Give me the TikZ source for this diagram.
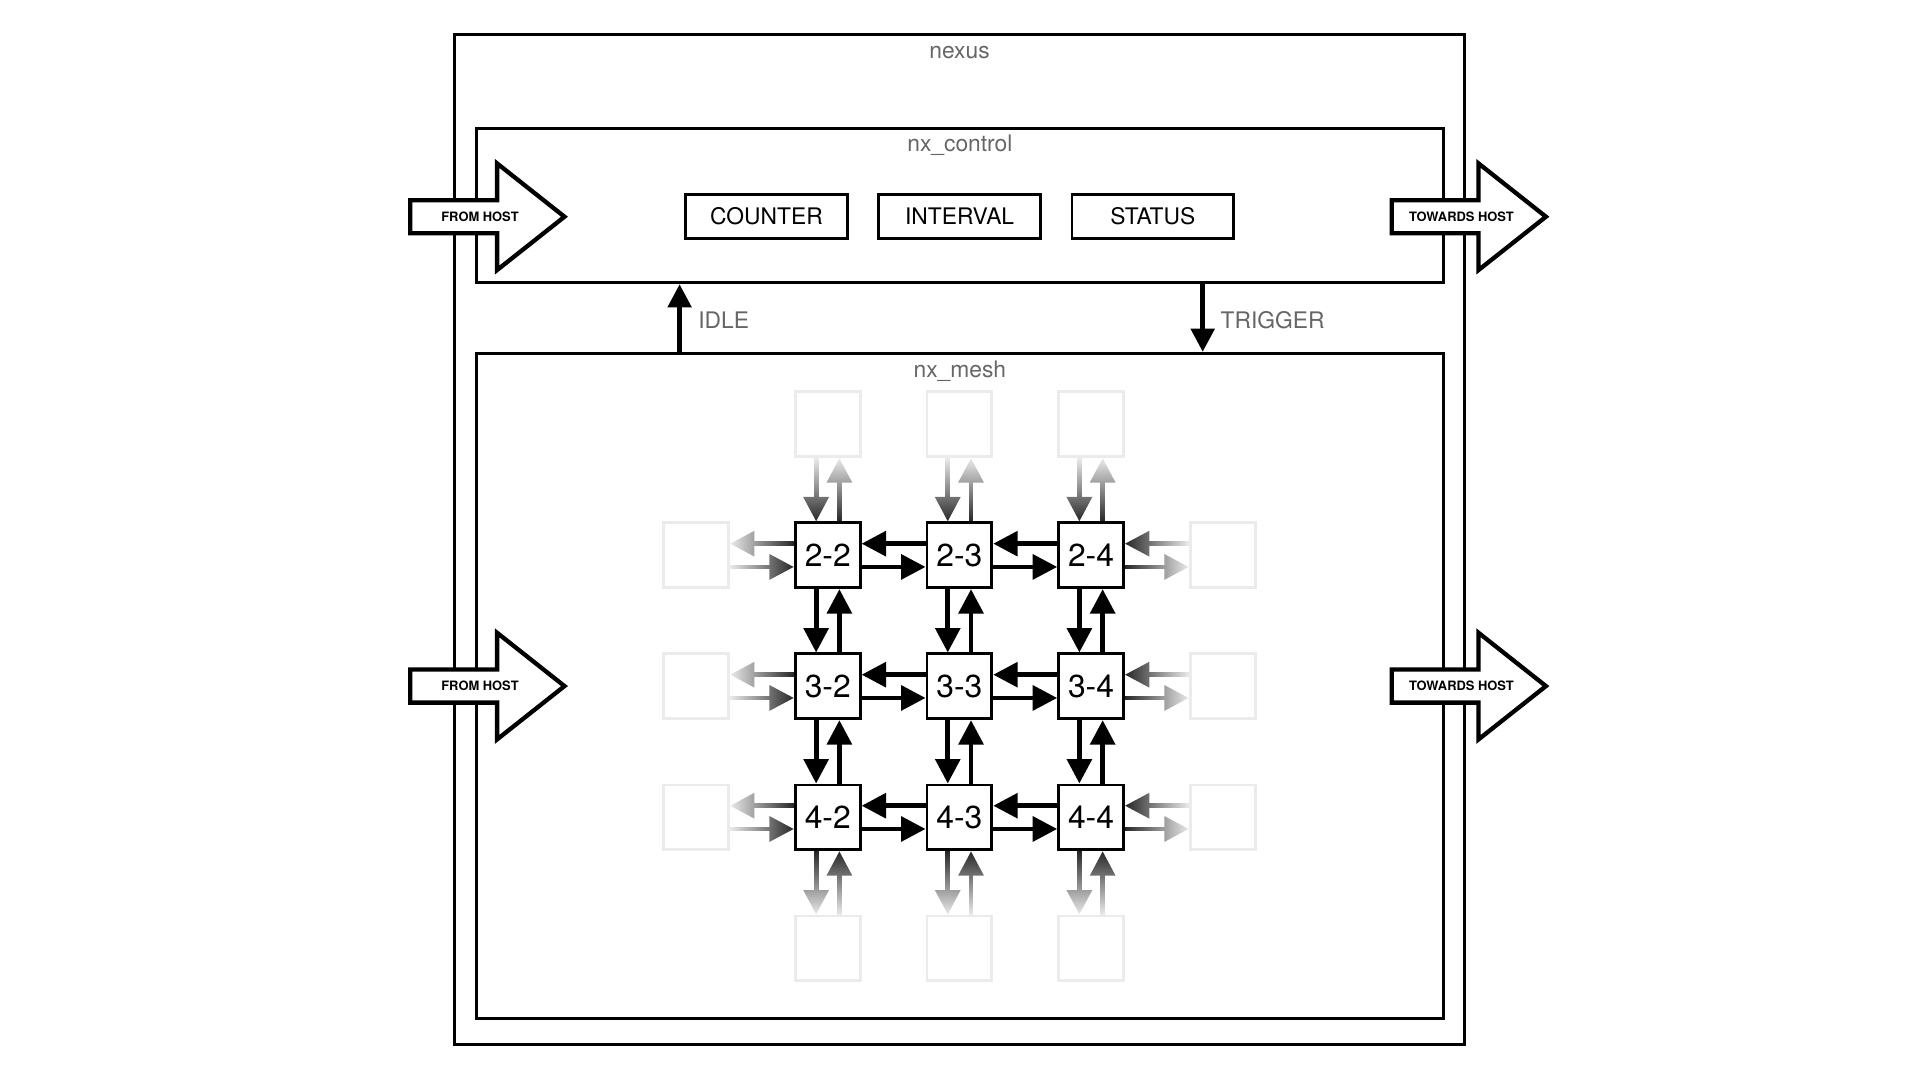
\documentclass[tikz,border=0pt]{standalone}
\usepackage{fontspec}
\setmainfont{TeX Gyre Heros}
\usepackage{xcolor}
\usepackage{tikz}
\usetikzlibrary{positioning,arrows.meta,calc,fadings}

\tikzfading[name=ghostfade, left color=transparent!8, right color=transparent!85]

\begin{document}
\begin{tikzpicture}[
    >={Triangle[length=0.4cm,width=0.4cm]},
    x=0.02cm, y=-0.02cm,
    block/.style={rectangle, draw, line width=1.5pt, inner sep=0pt},
    boxtitle/.style={font=\fontsize{10.6}{12}\selectfont, text=black!60, inner sep=0pt, anchor=base},
    reg/.style={rectangle, draw, line width=1.3pt, minimum width=2.64cm, minimum height=0.72cm, inner sep=0pt, font=\fontsize{10.6}{12}\selectfont},
    router/.style={rectangle, draw, fill=white, line width=1.3pt, minimum size=1.06cm, inner sep=0pt, font=\fontsize{14.8}{16}\selectfont},
    ghost/.style={router, draw=black!8},
    meshlink/.style={->, line width=2.2pt},
    sig/.style={-{Triangle[length=0.38cm,width=0.38cm]}, line width=2.2pt},
    sigtext/.style={font=\fontsize{10.6}{12}\selectfont, text=black!60, inner sep=0pt, anchor=base west},
    hostarrow/.style={draw, fill=white, line width=2pt, line join=miter},
    hostlabel/.style={font=\fontsize{6}{7}\selectfont\bfseries, inner sep=0pt}
]
\useasboundingbox (0,0) rectangle (1568,882);

% === nexus ===
\node[block, minimum width=16.5cm, minimum height=16.5cm] (nexus) at (783.8,440.7) {};
\node[boxtitle] (nexus_title) at (783.6,47.6) {nexus};

% === nx_control ===
\node[block, minimum width=15.8cm, minimum height=2.52cm] (ctrl) at (783.9,167.8) {};
\node[boxtitle] (ctrl_title) at (783.9,123.9) {nx\_control};
\node[reg] (interval) at (783.7,176.7) {INTERVAL};
\node[reg, left=0.47cm of interval] (counter) {COUNTER};
\node[reg, right=0.47cm of interval] (status) {STATUS};

% === nx_mesh ===
\node[block, minimum width=15.8cm, minimum height=10.86cm] (mesh) at (783.9,560.1) {};
\node[boxtitle] (mesh_title) at (783.9,308.5) {nx\_mesh};

% signals between control and mesh
\coordinate (idle_x) at (555,0);
\coordinate (trig_x) at (982.2,0);
\draw[sig] (idle_x |- mesh.north) -- (idle_x |- ctrl.south);
\draw[sig] (trig_x |- ctrl.south) -- (trig_x |- mesh.north);
\node[sigtext] (idle_lbl) at (570,268) {IDLE};
\node[sigtext] (trig_lbl) at (996.5,268) {TRIGGER};

% routers
\foreach \r in {2,3,4} {
    \foreach \c in {2,3,4} {
        \node[router] (m\r\c) at ({676+(\c-2)*107.5},{453.5+(\r-2)*107}) {\r-\c};
    }
}

% ghost ring
\foreach \i in {2,3,4} {
    \node[ghost] (m1\i) at ({676+(\i-2)*107.5},346.5) {};
    \node[ghost] (m5\i) at ({676+(\i-2)*107.5},774.5) {};
    \node[ghost] (m\i1) at (568.5,{453.5+(\i-2)*107}) {};
    \node[ghost] (m\i5) at (998.5,{453.5+(\i-2)*107}) {};
}

% links, east/west
\foreach \r in {2,3,4} {
    \foreach \c [evaluate=\c as \cn using int(\c+1)] in {1,...,4} {
        \draw[meshlink] ([yshift=-0.19cm]m\r\c.east) -- ([yshift=-0.19cm]m\r\cn.west);
        \draw[meshlink] ([yshift=0.19cm]m\r\cn.west) -- ([yshift=0.19cm]m\r\c.east);
    }
}
% links, north/south
\foreach \c in {2,3,4} {
    \foreach \r [evaluate=\r as \rn using int(\r+1)] in {1,...,4} {
        \draw[meshlink] ([xshift=-0.19cm]m\r\c.south) -- ([xshift=-0.19cm]m\rn\c.north);
        \draw[meshlink] ([xshift=0.19cm]m\rn\c.north) -- ([xshift=0.19cm]m\r\c.south);
    }
}

% fade the links towards the ghosts
\foreach \i in {2,3,4} {
    \fill[white, path fading=ghostfade] (m\i1.north east) rectangle (m\i2.south west);
    \fill[white, path fading=ghostfade, fading angle=180] (m\i4.north east) rectangle (m\i5.south west);
    \fill[white, path fading=ghostfade, fading angle=-90] (m1\i.south west) rectangle (m2\i.north east);
    \fill[white, path fading=ghostfade, fading angle=90] (m4\i.south west) rectangle (m5\i.north east);
}

% host arrows
\foreach \ax/\ay/\nm/\txt in {335/177/in_ctrl/FROM HOST, 1136.5/177/out_ctrl/TOWARDS HOST, 335/560.3/in_mesh/FROM HOST, 1136.5/560.3/out_mesh/TOWARDS HOST} {
    \draw[hostarrow] ({\ax},{\ay-13.5}) -- ++(71,0) -- ++(0,-30) -- ++(55,43.5) -- ++(-55,43.5) -- ++(0,-30) -- ++(-71,0) -- cycle;
    \node[hostlabel] (\nm) at ({\ax+57},{\ay}) {\txt};
}
\end{tikzpicture}
\end{document}
